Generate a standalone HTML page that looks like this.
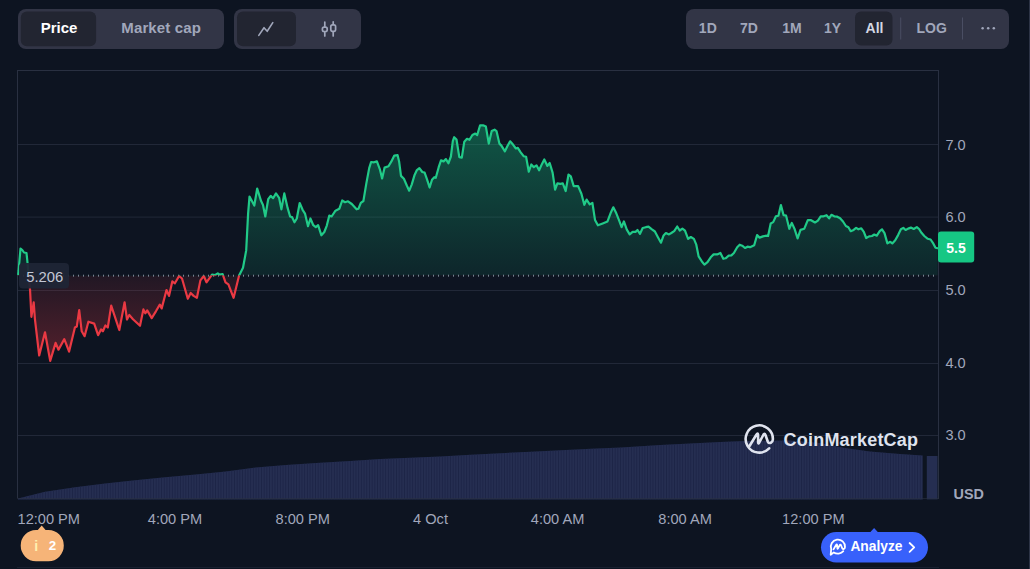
<!DOCTYPE html>
<html lang="en"><head><meta charset="utf-8"><title>Price chart</title>
<style>
html,body{margin:0;padding:0;background:#0d1421;}
body{width:1030px;height:569px;overflow:hidden;position:relative;}
svg{display:block;position:absolute;left:0;top:0;font-family:"Liberation Sans",sans-serif;}
.ax{font-size:14.6px;fill:#a1a7bb;}
.tb{font-size:14px;font-weight:700;fill:#a1a7bb;text-anchor:middle;}
.tb15{font-size:15px;font-weight:700;fill:#a1a7bb;text-anchor:middle;}
</style></head>
<body>
<svg width="1030" height="569" viewBox="0 0 1030 569">
<defs>
<linearGradient id="gg" gradientUnits="userSpaceOnUse" x1="0" y1="125" x2="0" y2="275.5">
<stop offset="0" stop-color="#16c784" stop-opacity="0.37"/><stop offset="1" stop-color="#16c784" stop-opacity="0.10"/></linearGradient>
<linearGradient id="rg" gradientUnits="userSpaceOnUse" x1="0" y1="275.5" x2="0" y2="361">
<stop offset="0" stop-color="#ea3943" stop-opacity="0.09"/><stop offset="1" stop-color="#ea3943" stop-opacity="0.32"/></linearGradient>
<clipPath id="up"><rect x="0" y="0" width="1030" height="275.5"/></clipPath>
<clipPath id="dn"><rect x="0" y="275.5" width="1030" height="300"/></clipPath>
<pattern id="vp" x="18" y="0" width="2.7" height="10" patternUnits="userSpaceOnUse"><rect x="0" y="0" width="0.8" height="10" fill="#1a2245"/></pattern>
</defs>
<rect width="1030" height="569" fill="#0d1421"/>
<rect x="1029" y="0" width="1" height="569" fill="#2d3446"/>

<!-- toolbar left: Price / Market cap -->
<rect x="18" y="9" width="206" height="40" rx="8" fill="#323546"/>
<rect x="20.8" y="11.4" width="75.3" height="34.8" rx="6" fill="#222531"/>
<text x="59.1" y="33" class="tb15" style="fill:#ffffff">Price</text>
<text x="161.2" y="33" class="tb15" letter-spacing="0.15">Market cap</text>

<!-- toolbar: chart type -->
<rect x="234" y="9" width="127" height="40" rx="8" fill="#323546"/>
<rect x="237" y="11.4" width="59" height="34.8" rx="6" fill="#222531"/>
<polyline points="258.8,35.4 264,27.7 267.2,31.3 272.8,22.6" fill="none" stroke="#a1a7bb" stroke-width="1.6" stroke-linecap="round" stroke-linejoin="round"/>
<g fill="none" stroke="#a1a7bb" stroke-width="1.7" stroke-linecap="round">
<line x1="324.8" y1="22" x2="324.8" y2="26.2"/><line x1="324.8" y1="32.4" x2="324.8" y2="36"/>
<rect x="322.4" y="27.2" width="4.8" height="4.3" rx="1.7"/>
<line x1="333.2" y1="21.8" x2="333.2" y2="24"/><line x1="333.2" y1="32.4" x2="333.2" y2="36"/>
<rect x="330.8" y="24.9" width="4.8" height="6.4" rx="1.7"/>
</g>

<!-- toolbar right: ranges -->
<rect x="686" y="9" width="323" height="40" rx="8" fill="#323546"/>
<rect x="855" y="11.5" width="37.5" height="34" rx="6" fill="#222531"/>
<text x="707.8" y="33" class="tb">1D</text>
<text x="749" y="33" class="tb">7D</text>
<text x="792" y="33" class="tb">1M</text>
<text x="832.5" y="33" class="tb">1Y</text>
<text x="874.5" y="33" class="tb" style="fill:#d3d7e3">All</text>
<rect x="900.2" y="17.5" width="1" height="22" fill="#4a4e63"/>
<text x="931.7" y="33" class="tb">LOG</text>
<rect x="962" y="17.5" width="1" height="22" fill="#4a4e63"/>
<circle cx="982.6" cy="28.3" r="1.25" fill="#a1a7bb"/><circle cx="988.2" cy="28.3" r="1.25" fill="#a1a7bb"/><circle cx="993.8" cy="28.3" r="1.25" fill="#a1a7bb"/>

<!-- chart frame and grid -->
<rect x="18" y="144" width="920" height="1" fill="#212838"/><rect x="18" y="216.6" width="920" height="1" fill="#212838"/><rect x="18" y="290" width="920" height="1" fill="#212838"/><rect x="18" y="363" width="920" height="1" fill="#212838"/><rect x="18" y="435" width="920" height="1" fill="#212838"/>
<rect x="17" y="70" width="922" height="1" fill="#293041"/>
<rect x="17" y="70" width="1" height="428" fill="#293041"/>
<rect x="938" y="70" width="1" height="429" fill="#293041"/>
<rect x="17" y="567" width="922" height="1" fill="#182030"/>

<!-- volume -->
<path d="M18 499.4 L18.0 498.6 L45.0 491.7 L75.0 487.2 L105.0 483.6 L135.0 480.3 L165.0 477.2 L195.6 474.5 L225.6 471.5 L255.7 467.6 L285.8 464.9 L316.0 463.1 L350.0 461.0 L380.0 458.9 L410.0 457.7 L440.0 456.5 L470.5 454.7 L500.6 453.2 L530.7 451.7 L560.7 450.2 L590.8 448.7 L621.0 447.5 L660.0 445.0 L690.0 443.5 L720.0 442.0 L745.0 441.0 L790.0 440.5 L820.0 443.0 L845.0 448.0 L870.0 451.5 L900.0 454.0 L922.6 455.6 L922.6 499.4 Z" fill="#252e51"/>
<path d="M18 499.4 L18.0 498.6 L45.0 491.7 L75.0 487.2 L105.0 483.6 L135.0 480.3 L165.0 477.2 L195.6 474.5 L225.6 471.5 L255.7 467.6 L285.8 464.9 L316.0 463.1 L350.0 461.0 L380.0 458.9 L410.0 457.7 L440.0 456.5 L470.5 454.7 L500.6 453.2 L530.7 451.7 L560.7 450.2 L590.8 448.7 L621.0 447.5 L660.0 445.0 L690.0 443.5 L720.0 442.0 L745.0 441.0 L790.0 440.5 L820.0 443.0 L845.0 448.0 L870.0 451.5 L900.0 454.0 L922.6 455.6 L922.6 499.4 Z" fill="url(#vp)"/>
<rect x="926.8" y="456" width="10.7" height="43.4" fill="#252e51"/>
<rect x="17" y="498" width="922" height="1" fill="#293041" opacity="0.6"/>

<!-- price area + line -->
<g clip-path="url(#up)"><path d="M18.2 274.2 L18.6 271.0 L20.5 248.5 L22.3 250.0 L24.0 252.5 L26.5 253.0 L27.5 262.5 L30.1 290.7 L31.4 316.8 L33.7 302.3 L34.9 318.8 L39.2 355.5 L45.0 332.3 L50.2 360.9 L55.6 342.9 L58.5 349.7 L64.3 339.1 L69.1 351.6 L74.9 327.5 L76.8 326.5 L79.2 310.1 L81.7 331.3 L84.6 336.2 L88.4 321.7 L94.2 323.6 L98.1 335.2 L101.0 329.4 L102.9 331.3 L105.4 325.5 L107.8 327.5 L111.2 305.6 L119.3 330.0 L124.6 302.3 L127.0 319.5 L129.3 315.0 L133.0 319.3 L140.0 325.8 L143.4 309.4 L145.3 313.3 L147.2 310.4 L151.7 318.1 L155.9 311.3 L159.8 304.6 L161.7 308.4 L166.5 290.0 L169.0 295.9 L172.3 281.4 L174.9 283.3 L179.1 276.0 L182.0 278.5 L187.8 298.8 L190.7 293.0 L193.6 295.9 L196.9 297.8 L200.4 280.4 L203.8 276.0 L206.5 282.3 L212.0 274.6 L214.9 275.2 L217.8 273.3 L219.7 274.6 L222.6 274.0 L225.5 282.3 L228.4 284.3 L233.6 297.8 L239.1 275.5 L243.0 267.8 L246.2 250.4 L248.1 213.6 L249.5 196.6 L254.3 205.5 L257.2 188.5 L261.1 201.1 L263.0 205.0 L265.3 216.5 L268.2 199.2 L270.7 195.9 L273.1 198.2 L276.0 193.4 L279.1 197.8 L281.4 209.4 L284.3 193.4 L287.6 207.9 L290.1 216.5 L292.0 217.1 L294.5 222.3 L296.8 218.5 L299.7 203.0 L302.6 209.8 L305.0 213.6 L308.0 226.2 L310.4 218.5 L313.3 225.2 L315.8 227.2 L318.1 225.2 L321.4 235.3 L324.3 232.0 L326.8 225.6 L329.3 215.6 L331.6 216.5 L335.5 210.7 L339.3 208.8 L342.2 200.5 L345.0 202.2 L348.0 201.3 L351.8 204.0 L356.6 209.3 L358.5 208.7 L360.8 202.9 L363.4 201.0 L366.3 183.6 L369.2 168.1 L371.1 162.0 L374.0 162.3 L376.9 161.4 L379.8 169.1 L382.1 178.4 L384.6 167.6 L388.5 166.2 L391.4 161.4 L394.3 155.6 L397.6 155.2 L399.1 161.4 L401.0 175.9 L403.9 178.8 L406.8 185.5 L409.2 190.7 L411.7 184.6 L414.6 174.9 L416.9 170.1 L419.4 168.1 L422.3 172.0 L424.6 172.6 L427.1 179.7 L429.6 187.5 L432.0 179.7 L434.3 177.2 L435.8 177.8 L438.7 167.2 L441.0 160.4 L443.6 161.4 L445.9 159.1 L448.4 163.3 L450.9 156.5 L452.8 141.1 L454.2 137.2 L456.5 139.5 L459.3 157.2 L461.8 157.6 L464.3 141.7 L467.0 138.8 L469.5 139.8 L472.4 135.0 L475.3 133.6 L477.2 135.0 L480.1 125.3 L483.0 125.3 L485.9 126.6 L488.8 143.6 L491.7 131.1 L494.6 129.7 L496.5 131.1 L499.4 143.6 L501.4 145.6 L504.9 151.4 L507.2 146.5 L510.1 141.3 L513.0 144.6 L515.9 148.5 L517.8 147.9 L520.7 152.3 L523.6 156.2 L526.1 156.8 L528.8 171.7 L531.3 164.5 L533.8 167.2 L536.5 165.3 L539.1 170.3 L542.0 163.9 L544.3 159.5 L547.4 165.9 L549.7 163.0 L552.6 172.6 L555.1 189.6 L557.4 183.3 L560.3 183.8 L562.8 183.3 L565.7 191.0 L568.5 174.5 L570.8 176.4 L573.7 186.1 L578.1 186.1 L581.4 193.8 L584.3 204.8 L586.6 199.6 L589.7 204.4 L592.4 202.9 L595.0 219.9 L597.9 225.3 L602.7 223.4 L607.5 221.4 L611.0 212.2 L613.3 207.3 L616.2 213.1 L619.1 220.3 L621.6 227.2 L623.9 221.4 L626.8 229.6 L629.7 234.4 L632.6 231.9 L635.5 231.9 L637.5 230.0 L640.0 233.8 L642.7 228.0 L645.8 227.2 L648.5 226.7 L651.6 229.2 L654.9 231.5 L657.8 236.9 L661.0 242.7 L663.6 235.4 L665.9 233.0 L669.0 234.4 L671.3 233.0 L674.2 231.1 L677.2 226.5 L679.7 230.5 L682.4 228.6 L685.0 230.6 L688.1 238.9 L690.8 237.0 L693.9 238.9 L696.3 244.7 L698.6 256.3 L701.7 261.2 L704.4 264.6 L707.5 262.1 L710.7 257.3 L713.6 254.4 L717.1 254.4 L720.4 253.0 L723.3 258.8 L725.6 258.3 L728.7 255.7 L731.4 255.4 L733.9 253.0 L737.2 247.2 L739.7 244.7 L742.2 245.7 L745.0 248.0 L747.5 246.7 L750.0 247.2 L754.2 245.3 L757.1 235.1 L759.6 237.6 L762.9 236.4 L765.8 235.7 L768.1 236.0 L770.7 223.5 L773.2 222.1 L775.9 216.3 L778.4 215.7 L780.9 205.1 L783.6 215.2 L786.1 215.7 L789.3 228.8 L791.8 222.9 L794.7 229.3 L797.6 238.4 L800.5 229.9 L804.3 228.7 L807.8 220.2 L811.1 220.2 L815.0 222.5 L817.9 220.6 L820.7 216.3 L823.6 216.3 L826.5 215.2 L829.1 218.3 L831.4 214.8 L834.3 216.3 L837.2 216.7 L840.1 218.3 L843.0 221.5 L845.9 226.0 L848.4 227.3 L850.7 231.2 L853.6 229.9 L856.1 227.9 L858.4 229.3 L861.3 228.3 L863.8 231.8 L866.2 238.0 L869.1 236.4 L872.0 236.0 L874.3 234.5 L876.8 235.7 L879.7 231.2 L882.0 229.3 L884.5 233.1 L887.4 243.4 L890.3 241.8 L892.3 243.4 L895.2 240.3 L898.1 235.1 L900.9 229.3 L903.3 227.9 L905.6 230.0 L908.1 228.6 L910.9 227.6 L913.7 229.0 L916.8 227.1 L919.1 229.0 L921.5 232.8 L924.3 236.0 L927.8 238.8 L930.6 239.5 L933.4 243.7 L935.5 247.7 L937.6 248.2 L937.6 275.5 L18.2 275.5 Z" fill="url(#gg)"/></g>
<g clip-path="url(#dn)"><path d="M18.2 274.2 L18.6 271.0 L20.5 248.5 L22.3 250.0 L24.0 252.5 L26.5 253.0 L27.5 262.5 L30.1 290.7 L31.4 316.8 L33.7 302.3 L34.9 318.8 L39.2 355.5 L45.0 332.3 L50.2 360.9 L55.6 342.9 L58.5 349.7 L64.3 339.1 L69.1 351.6 L74.9 327.5 L76.8 326.5 L79.2 310.1 L81.7 331.3 L84.6 336.2 L88.4 321.7 L94.2 323.6 L98.1 335.2 L101.0 329.4 L102.9 331.3 L105.4 325.5 L107.8 327.5 L111.2 305.6 L119.3 330.0 L124.6 302.3 L127.0 319.5 L129.3 315.0 L133.0 319.3 L140.0 325.8 L143.4 309.4 L145.3 313.3 L147.2 310.4 L151.7 318.1 L155.9 311.3 L159.8 304.6 L161.7 308.4 L166.5 290.0 L169.0 295.9 L172.3 281.4 L174.9 283.3 L179.1 276.0 L182.0 278.5 L187.8 298.8 L190.7 293.0 L193.6 295.9 L196.9 297.8 L200.4 280.4 L203.8 276.0 L206.5 282.3 L212.0 274.6 L214.9 275.2 L217.8 273.3 L219.7 274.6 L222.6 274.0 L225.5 282.3 L228.4 284.3 L233.6 297.8 L239.1 275.5 L243.0 267.8 L246.2 250.4 L248.1 213.6 L249.5 196.6 L254.3 205.5 L257.2 188.5 L261.1 201.1 L263.0 205.0 L265.3 216.5 L268.2 199.2 L270.7 195.9 L273.1 198.2 L276.0 193.4 L279.1 197.8 L281.4 209.4 L284.3 193.4 L287.6 207.9 L290.1 216.5 L292.0 217.1 L294.5 222.3 L296.8 218.5 L299.7 203.0 L302.6 209.8 L305.0 213.6 L308.0 226.2 L310.4 218.5 L313.3 225.2 L315.8 227.2 L318.1 225.2 L321.4 235.3 L324.3 232.0 L326.8 225.6 L329.3 215.6 L331.6 216.5 L335.5 210.7 L339.3 208.8 L342.2 200.5 L345.0 202.2 L348.0 201.3 L351.8 204.0 L356.6 209.3 L358.5 208.7 L360.8 202.9 L363.4 201.0 L366.3 183.6 L369.2 168.1 L371.1 162.0 L374.0 162.3 L376.9 161.4 L379.8 169.1 L382.1 178.4 L384.6 167.6 L388.5 166.2 L391.4 161.4 L394.3 155.6 L397.6 155.2 L399.1 161.4 L401.0 175.9 L403.9 178.8 L406.8 185.5 L409.2 190.7 L411.7 184.6 L414.6 174.9 L416.9 170.1 L419.4 168.1 L422.3 172.0 L424.6 172.6 L427.1 179.7 L429.6 187.5 L432.0 179.7 L434.3 177.2 L435.8 177.8 L438.7 167.2 L441.0 160.4 L443.6 161.4 L445.9 159.1 L448.4 163.3 L450.9 156.5 L452.8 141.1 L454.2 137.2 L456.5 139.5 L459.3 157.2 L461.8 157.6 L464.3 141.7 L467.0 138.8 L469.5 139.8 L472.4 135.0 L475.3 133.6 L477.2 135.0 L480.1 125.3 L483.0 125.3 L485.9 126.6 L488.8 143.6 L491.7 131.1 L494.6 129.7 L496.5 131.1 L499.4 143.6 L501.4 145.6 L504.9 151.4 L507.2 146.5 L510.1 141.3 L513.0 144.6 L515.9 148.5 L517.8 147.9 L520.7 152.3 L523.6 156.2 L526.1 156.8 L528.8 171.7 L531.3 164.5 L533.8 167.2 L536.5 165.3 L539.1 170.3 L542.0 163.9 L544.3 159.5 L547.4 165.9 L549.7 163.0 L552.6 172.6 L555.1 189.6 L557.4 183.3 L560.3 183.8 L562.8 183.3 L565.7 191.0 L568.5 174.5 L570.8 176.4 L573.7 186.1 L578.1 186.1 L581.4 193.8 L584.3 204.8 L586.6 199.6 L589.7 204.4 L592.4 202.9 L595.0 219.9 L597.9 225.3 L602.7 223.4 L607.5 221.4 L611.0 212.2 L613.3 207.3 L616.2 213.1 L619.1 220.3 L621.6 227.2 L623.9 221.4 L626.8 229.6 L629.7 234.4 L632.6 231.9 L635.5 231.9 L637.5 230.0 L640.0 233.8 L642.7 228.0 L645.8 227.2 L648.5 226.7 L651.6 229.2 L654.9 231.5 L657.8 236.9 L661.0 242.7 L663.6 235.4 L665.9 233.0 L669.0 234.4 L671.3 233.0 L674.2 231.1 L677.2 226.5 L679.7 230.5 L682.4 228.6 L685.0 230.6 L688.1 238.9 L690.8 237.0 L693.9 238.9 L696.3 244.7 L698.6 256.3 L701.7 261.2 L704.4 264.6 L707.5 262.1 L710.7 257.3 L713.6 254.4 L717.1 254.4 L720.4 253.0 L723.3 258.8 L725.6 258.3 L728.7 255.7 L731.4 255.4 L733.9 253.0 L737.2 247.2 L739.7 244.7 L742.2 245.7 L745.0 248.0 L747.5 246.7 L750.0 247.2 L754.2 245.3 L757.1 235.1 L759.6 237.6 L762.9 236.4 L765.8 235.7 L768.1 236.0 L770.7 223.5 L773.2 222.1 L775.9 216.3 L778.4 215.7 L780.9 205.1 L783.6 215.2 L786.1 215.7 L789.3 228.8 L791.8 222.9 L794.7 229.3 L797.6 238.4 L800.5 229.9 L804.3 228.7 L807.8 220.2 L811.1 220.2 L815.0 222.5 L817.9 220.6 L820.7 216.3 L823.6 216.3 L826.5 215.2 L829.1 218.3 L831.4 214.8 L834.3 216.3 L837.2 216.7 L840.1 218.3 L843.0 221.5 L845.9 226.0 L848.4 227.3 L850.7 231.2 L853.6 229.9 L856.1 227.9 L858.4 229.3 L861.3 228.3 L863.8 231.8 L866.2 238.0 L869.1 236.4 L872.0 236.0 L874.3 234.5 L876.8 235.7 L879.7 231.2 L882.0 229.3 L884.5 233.1 L887.4 243.4 L890.3 241.8 L892.3 243.4 L895.2 240.3 L898.1 235.1 L900.9 229.3 L903.3 227.9 L905.6 230.0 L908.1 228.6 L910.9 227.6 L913.7 229.0 L916.8 227.1 L919.1 229.0 L921.5 232.8 L924.3 236.0 L927.8 238.8 L930.6 239.5 L933.4 243.7 L935.5 247.7 L937.6 248.2 L937.6 275.5 L18.2 275.5 Z" fill="url(#rg)"/></g>
<g fill="#76818f"><rect x="23.0" y="274.7" width="1" height="2"/><rect x="28.0" y="274.7" width="1" height="2"/><rect x="33.0" y="274.7" width="1" height="2"/><rect x="38.0" y="274.7" width="1" height="2"/><rect x="43.0" y="274.7" width="1" height="2"/><rect x="48.0" y="274.7" width="1" height="2"/><rect x="53.0" y="274.7" width="1" height="2"/><rect x="58.0" y="274.7" width="1" height="2"/><rect x="63.0" y="274.7" width="1" height="2"/><rect x="68.0" y="274.7" width="1" height="2"/><rect x="73.0" y="274.7" width="1" height="2"/><rect x="78.0" y="274.7" width="1" height="2"/><rect x="83.0" y="274.7" width="1" height="2"/><rect x="88.0" y="274.7" width="1" height="2"/><rect x="93.0" y="274.7" width="1" height="2"/><rect x="98.0" y="274.7" width="1" height="2"/><rect x="103.0" y="274.7" width="1" height="2"/><rect x="108.0" y="274.7" width="1" height="2"/><rect x="113.0" y="274.7" width="1" height="2"/><rect x="118.0" y="274.7" width="1" height="2"/><rect x="123.0" y="274.7" width="1" height="2"/><rect x="128.0" y="274.7" width="1" height="2"/><rect x="133.0" y="274.7" width="1" height="2"/><rect x="138.0" y="274.7" width="1" height="2"/><rect x="143.0" y="274.7" width="1" height="2"/><rect x="148.0" y="274.7" width="1" height="2"/><rect x="153.0" y="274.7" width="1" height="2"/><rect x="158.0" y="274.7" width="1" height="2"/><rect x="163.0" y="274.7" width="1" height="2"/><rect x="168.0" y="274.7" width="1" height="2"/><rect x="173.0" y="274.7" width="1" height="2"/><rect x="178.0" y="274.7" width="1" height="2"/><rect x="183.0" y="274.7" width="1" height="2"/><rect x="188.0" y="274.7" width="1" height="2"/><rect x="193.0" y="274.7" width="1" height="2"/><rect x="198.0" y="274.7" width="1" height="2"/><rect x="203.0" y="274.7" width="1" height="2"/><rect x="208.0" y="274.7" width="1" height="2"/><rect x="213.0" y="274.7" width="1" height="2"/><rect x="218.0" y="274.7" width="1" height="2"/><rect x="223.0" y="274.7" width="1" height="2"/><rect x="228.0" y="274.7" width="1" height="2"/><rect x="233.0" y="274.7" width="1" height="2"/><rect x="238.0" y="274.7" width="1" height="2"/><rect x="243.0" y="274.7" width="1" height="2"/><rect x="248.0" y="274.7" width="1" height="2"/><rect x="253.0" y="274.7" width="1" height="2"/><rect x="258.0" y="274.7" width="1" height="2"/><rect x="263.0" y="274.7" width="1" height="2"/><rect x="268.0" y="274.7" width="1" height="2"/><rect x="273.0" y="274.7" width="1" height="2"/><rect x="278.0" y="274.7" width="1" height="2"/><rect x="283.0" y="274.7" width="1" height="2"/><rect x="288.0" y="274.7" width="1" height="2"/><rect x="293.0" y="274.7" width="1" height="2"/><rect x="298.0" y="274.7" width="1" height="2"/><rect x="303.0" y="274.7" width="1" height="2"/><rect x="308.0" y="274.7" width="1" height="2"/><rect x="313.0" y="274.7" width="1" height="2"/><rect x="318.0" y="274.7" width="1" height="2"/><rect x="323.0" y="274.7" width="1" height="2"/><rect x="328.0" y="274.7" width="1" height="2"/><rect x="333.0" y="274.7" width="1" height="2"/><rect x="338.0" y="274.7" width="1" height="2"/><rect x="343.0" y="274.7" width="1" height="2"/><rect x="348.0" y="274.7" width="1" height="2"/><rect x="353.0" y="274.7" width="1" height="2"/><rect x="358.0" y="274.7" width="1" height="2"/><rect x="363.0" y="274.7" width="1" height="2"/><rect x="368.0" y="274.7" width="1" height="2"/><rect x="373.0" y="274.7" width="1" height="2"/><rect x="378.0" y="274.7" width="1" height="2"/><rect x="383.0" y="274.7" width="1" height="2"/><rect x="388.0" y="274.7" width="1" height="2"/><rect x="393.0" y="274.7" width="1" height="2"/><rect x="398.0" y="274.7" width="1" height="2"/><rect x="403.0" y="274.7" width="1" height="2"/><rect x="408.0" y="274.7" width="1" height="2"/><rect x="413.0" y="274.7" width="1" height="2"/><rect x="418.0" y="274.7" width="1" height="2"/><rect x="423.0" y="274.7" width="1" height="2"/><rect x="428.0" y="274.7" width="1" height="2"/><rect x="433.0" y="274.7" width="1" height="2"/><rect x="438.0" y="274.7" width="1" height="2"/><rect x="443.0" y="274.7" width="1" height="2"/><rect x="448.0" y="274.7" width="1" height="2"/><rect x="453.0" y="274.7" width="1" height="2"/><rect x="458.0" y="274.7" width="1" height="2"/><rect x="463.0" y="274.7" width="1" height="2"/><rect x="468.0" y="274.7" width="1" height="2"/><rect x="473.0" y="274.7" width="1" height="2"/><rect x="478.0" y="274.7" width="1" height="2"/><rect x="483.0" y="274.7" width="1" height="2"/><rect x="488.0" y="274.7" width="1" height="2"/><rect x="493.0" y="274.7" width="1" height="2"/><rect x="498.0" y="274.7" width="1" height="2"/><rect x="503.0" y="274.7" width="1" height="2"/><rect x="508.0" y="274.7" width="1" height="2"/><rect x="513.0" y="274.7" width="1" height="2"/><rect x="518.0" y="274.7" width="1" height="2"/><rect x="523.0" y="274.7" width="1" height="2"/><rect x="528.0" y="274.7" width="1" height="2"/><rect x="533.0" y="274.7" width="1" height="2"/><rect x="538.0" y="274.7" width="1" height="2"/><rect x="543.0" y="274.7" width="1" height="2"/><rect x="548.0" y="274.7" width="1" height="2"/><rect x="553.0" y="274.7" width="1" height="2"/><rect x="558.0" y="274.7" width="1" height="2"/><rect x="563.0" y="274.7" width="1" height="2"/><rect x="568.0" y="274.7" width="1" height="2"/><rect x="573.0" y="274.7" width="1" height="2"/><rect x="578.0" y="274.7" width="1" height="2"/><rect x="583.0" y="274.7" width="1" height="2"/><rect x="588.0" y="274.7" width="1" height="2"/><rect x="593.0" y="274.7" width="1" height="2"/><rect x="598.0" y="274.7" width="1" height="2"/><rect x="603.0" y="274.7" width="1" height="2"/><rect x="608.0" y="274.7" width="1" height="2"/><rect x="613.0" y="274.7" width="1" height="2"/><rect x="618.0" y="274.7" width="1" height="2"/><rect x="623.0" y="274.7" width="1" height="2"/><rect x="628.0" y="274.7" width="1" height="2"/><rect x="633.0" y="274.7" width="1" height="2"/><rect x="638.0" y="274.7" width="1" height="2"/><rect x="643.0" y="274.7" width="1" height="2"/><rect x="648.0" y="274.7" width="1" height="2"/><rect x="653.0" y="274.7" width="1" height="2"/><rect x="658.0" y="274.7" width="1" height="2"/><rect x="663.0" y="274.7" width="1" height="2"/><rect x="668.0" y="274.7" width="1" height="2"/><rect x="673.0" y="274.7" width="1" height="2"/><rect x="678.0" y="274.7" width="1" height="2"/><rect x="683.0" y="274.7" width="1" height="2"/><rect x="688.0" y="274.7" width="1" height="2"/><rect x="693.0" y="274.7" width="1" height="2"/><rect x="698.0" y="274.7" width="1" height="2"/><rect x="703.0" y="274.7" width="1" height="2"/><rect x="708.0" y="274.7" width="1" height="2"/><rect x="713.0" y="274.7" width="1" height="2"/><rect x="718.0" y="274.7" width="1" height="2"/><rect x="723.0" y="274.7" width="1" height="2"/><rect x="728.0" y="274.7" width="1" height="2"/><rect x="733.0" y="274.7" width="1" height="2"/><rect x="738.0" y="274.7" width="1" height="2"/><rect x="743.0" y="274.7" width="1" height="2"/><rect x="748.0" y="274.7" width="1" height="2"/><rect x="753.0" y="274.7" width="1" height="2"/><rect x="758.0" y="274.7" width="1" height="2"/><rect x="763.0" y="274.7" width="1" height="2"/><rect x="768.0" y="274.7" width="1" height="2"/><rect x="773.0" y="274.7" width="1" height="2"/><rect x="778.0" y="274.7" width="1" height="2"/><rect x="783.0" y="274.7" width="1" height="2"/><rect x="788.0" y="274.7" width="1" height="2"/><rect x="793.0" y="274.7" width="1" height="2"/><rect x="798.0" y="274.7" width="1" height="2"/><rect x="803.0" y="274.7" width="1" height="2"/><rect x="808.0" y="274.7" width="1" height="2"/><rect x="813.0" y="274.7" width="1" height="2"/><rect x="818.0" y="274.7" width="1" height="2"/><rect x="823.0" y="274.7" width="1" height="2"/><rect x="828.0" y="274.7" width="1" height="2"/><rect x="833.0" y="274.7" width="1" height="2"/><rect x="838.0" y="274.7" width="1" height="2"/><rect x="843.0" y="274.7" width="1" height="2"/><rect x="848.0" y="274.7" width="1" height="2"/><rect x="853.0" y="274.7" width="1" height="2"/><rect x="858.0" y="274.7" width="1" height="2"/><rect x="863.0" y="274.7" width="1" height="2"/><rect x="868.0" y="274.7" width="1" height="2"/><rect x="873.0" y="274.7" width="1" height="2"/><rect x="878.0" y="274.7" width="1" height="2"/><rect x="883.0" y="274.7" width="1" height="2"/><rect x="888.0" y="274.7" width="1" height="2"/><rect x="893.0" y="274.7" width="1" height="2"/><rect x="898.0" y="274.7" width="1" height="2"/><rect x="903.0" y="274.7" width="1" height="2"/><rect x="908.0" y="274.7" width="1" height="2"/><rect x="913.0" y="274.7" width="1" height="2"/><rect x="918.0" y="274.7" width="1" height="2"/><rect x="923.0" y="274.7" width="1" height="2"/><rect x="928.0" y="274.7" width="1" height="2"/><rect x="933.0" y="274.7" width="1" height="2"/></g>
<g clip-path="url(#up)"><path d="M18.2 274.2 L18.6 271.0 L20.5 248.5 L22.3 250.0 L24.0 252.5 L26.5 253.0 L27.5 262.5 L30.1 290.7 L31.4 316.8 L33.7 302.3 L34.9 318.8 L39.2 355.5 L45.0 332.3 L50.2 360.9 L55.6 342.9 L58.5 349.7 L64.3 339.1 L69.1 351.6 L74.9 327.5 L76.8 326.5 L79.2 310.1 L81.7 331.3 L84.6 336.2 L88.4 321.7 L94.2 323.6 L98.1 335.2 L101.0 329.4 L102.9 331.3 L105.4 325.5 L107.8 327.5 L111.2 305.6 L119.3 330.0 L124.6 302.3 L127.0 319.5 L129.3 315.0 L133.0 319.3 L140.0 325.8 L143.4 309.4 L145.3 313.3 L147.2 310.4 L151.7 318.1 L155.9 311.3 L159.8 304.6 L161.7 308.4 L166.5 290.0 L169.0 295.9 L172.3 281.4 L174.9 283.3 L179.1 276.0 L182.0 278.5 L187.8 298.8 L190.7 293.0 L193.6 295.9 L196.9 297.8 L200.4 280.4 L203.8 276.0 L206.5 282.3 L212.0 274.6 L214.9 275.2 L217.8 273.3 L219.7 274.6 L222.6 274.0 L225.5 282.3 L228.4 284.3 L233.6 297.8 L239.1 275.5 L243.0 267.8 L246.2 250.4 L248.1 213.6 L249.5 196.6 L254.3 205.5 L257.2 188.5 L261.1 201.1 L263.0 205.0 L265.3 216.5 L268.2 199.2 L270.7 195.9 L273.1 198.2 L276.0 193.4 L279.1 197.8 L281.4 209.4 L284.3 193.4 L287.6 207.9 L290.1 216.5 L292.0 217.1 L294.5 222.3 L296.8 218.5 L299.7 203.0 L302.6 209.8 L305.0 213.6 L308.0 226.2 L310.4 218.5 L313.3 225.2 L315.8 227.2 L318.1 225.2 L321.4 235.3 L324.3 232.0 L326.8 225.6 L329.3 215.6 L331.6 216.5 L335.5 210.7 L339.3 208.8 L342.2 200.5 L345.0 202.2 L348.0 201.3 L351.8 204.0 L356.6 209.3 L358.5 208.7 L360.8 202.9 L363.4 201.0 L366.3 183.6 L369.2 168.1 L371.1 162.0 L374.0 162.3 L376.9 161.4 L379.8 169.1 L382.1 178.4 L384.6 167.6 L388.5 166.2 L391.4 161.4 L394.3 155.6 L397.6 155.2 L399.1 161.4 L401.0 175.9 L403.9 178.8 L406.8 185.5 L409.2 190.7 L411.7 184.6 L414.6 174.9 L416.9 170.1 L419.4 168.1 L422.3 172.0 L424.6 172.6 L427.1 179.7 L429.6 187.5 L432.0 179.7 L434.3 177.2 L435.8 177.8 L438.7 167.2 L441.0 160.4 L443.6 161.4 L445.9 159.1 L448.4 163.3 L450.9 156.5 L452.8 141.1 L454.2 137.2 L456.5 139.5 L459.3 157.2 L461.8 157.6 L464.3 141.7 L467.0 138.8 L469.5 139.8 L472.4 135.0 L475.3 133.6 L477.2 135.0 L480.1 125.3 L483.0 125.3 L485.9 126.6 L488.8 143.6 L491.7 131.1 L494.6 129.7 L496.5 131.1 L499.4 143.6 L501.4 145.6 L504.9 151.4 L507.2 146.5 L510.1 141.3 L513.0 144.6 L515.9 148.5 L517.8 147.9 L520.7 152.3 L523.6 156.2 L526.1 156.8 L528.8 171.7 L531.3 164.5 L533.8 167.2 L536.5 165.3 L539.1 170.3 L542.0 163.9 L544.3 159.5 L547.4 165.9 L549.7 163.0 L552.6 172.6 L555.1 189.6 L557.4 183.3 L560.3 183.8 L562.8 183.3 L565.7 191.0 L568.5 174.5 L570.8 176.4 L573.7 186.1 L578.1 186.1 L581.4 193.8 L584.3 204.8 L586.6 199.6 L589.7 204.4 L592.4 202.9 L595.0 219.9 L597.9 225.3 L602.7 223.4 L607.5 221.4 L611.0 212.2 L613.3 207.3 L616.2 213.1 L619.1 220.3 L621.6 227.2 L623.9 221.4 L626.8 229.6 L629.7 234.4 L632.6 231.9 L635.5 231.9 L637.5 230.0 L640.0 233.8 L642.7 228.0 L645.8 227.2 L648.5 226.7 L651.6 229.2 L654.9 231.5 L657.8 236.9 L661.0 242.7 L663.6 235.4 L665.9 233.0 L669.0 234.4 L671.3 233.0 L674.2 231.1 L677.2 226.5 L679.7 230.5 L682.4 228.6 L685.0 230.6 L688.1 238.9 L690.8 237.0 L693.9 238.9 L696.3 244.7 L698.6 256.3 L701.7 261.2 L704.4 264.6 L707.5 262.1 L710.7 257.3 L713.6 254.4 L717.1 254.4 L720.4 253.0 L723.3 258.8 L725.6 258.3 L728.7 255.7 L731.4 255.4 L733.9 253.0 L737.2 247.2 L739.7 244.7 L742.2 245.7 L745.0 248.0 L747.5 246.7 L750.0 247.2 L754.2 245.3 L757.1 235.1 L759.6 237.6 L762.9 236.4 L765.8 235.7 L768.1 236.0 L770.7 223.5 L773.2 222.1 L775.9 216.3 L778.4 215.7 L780.9 205.1 L783.6 215.2 L786.1 215.7 L789.3 228.8 L791.8 222.9 L794.7 229.3 L797.6 238.4 L800.5 229.9 L804.3 228.7 L807.8 220.2 L811.1 220.2 L815.0 222.5 L817.9 220.6 L820.7 216.3 L823.6 216.3 L826.5 215.2 L829.1 218.3 L831.4 214.8 L834.3 216.3 L837.2 216.7 L840.1 218.3 L843.0 221.5 L845.9 226.0 L848.4 227.3 L850.7 231.2 L853.6 229.9 L856.1 227.9 L858.4 229.3 L861.3 228.3 L863.8 231.8 L866.2 238.0 L869.1 236.4 L872.0 236.0 L874.3 234.5 L876.8 235.7 L879.7 231.2 L882.0 229.3 L884.5 233.1 L887.4 243.4 L890.3 241.8 L892.3 243.4 L895.2 240.3 L898.1 235.1 L900.9 229.3 L903.3 227.9 L905.6 230.0 L908.1 228.6 L910.9 227.6 L913.7 229.0 L916.8 227.1 L919.1 229.0 L921.5 232.8 L924.3 236.0 L927.8 238.8 L930.6 239.5 L933.4 243.7 L935.5 247.7 L937.6 248.2" fill="none" stroke="#21ca88" stroke-width="2.2" stroke-linejoin="round" stroke-linecap="round"/></g>
<g clip-path="url(#dn)"><path d="M18.2 274.2 L18.6 271.0 L20.5 248.5 L22.3 250.0 L24.0 252.5 L26.5 253.0 L27.5 262.5 L30.1 290.7 L31.4 316.8 L33.7 302.3 L34.9 318.8 L39.2 355.5 L45.0 332.3 L50.2 360.9 L55.6 342.9 L58.5 349.7 L64.3 339.1 L69.1 351.6 L74.9 327.5 L76.8 326.5 L79.2 310.1 L81.7 331.3 L84.6 336.2 L88.4 321.7 L94.2 323.6 L98.1 335.2 L101.0 329.4 L102.9 331.3 L105.4 325.5 L107.8 327.5 L111.2 305.6 L119.3 330.0 L124.6 302.3 L127.0 319.5 L129.3 315.0 L133.0 319.3 L140.0 325.8 L143.4 309.4 L145.3 313.3 L147.2 310.4 L151.7 318.1 L155.9 311.3 L159.8 304.6 L161.7 308.4 L166.5 290.0 L169.0 295.9 L172.3 281.4 L174.9 283.3 L179.1 276.0 L182.0 278.5 L187.8 298.8 L190.7 293.0 L193.6 295.9 L196.9 297.8 L200.4 280.4 L203.8 276.0 L206.5 282.3 L212.0 274.6 L214.9 275.2 L217.8 273.3 L219.7 274.6 L222.6 274.0 L225.5 282.3 L228.4 284.3 L233.6 297.8 L239.1 275.5 L243.0 267.8 L246.2 250.4 L248.1 213.6 L249.5 196.6 L254.3 205.5 L257.2 188.5 L261.1 201.1 L263.0 205.0 L265.3 216.5 L268.2 199.2 L270.7 195.9 L273.1 198.2 L276.0 193.4 L279.1 197.8 L281.4 209.4 L284.3 193.4 L287.6 207.9 L290.1 216.5 L292.0 217.1 L294.5 222.3 L296.8 218.5 L299.7 203.0 L302.6 209.8 L305.0 213.6 L308.0 226.2 L310.4 218.5 L313.3 225.2 L315.8 227.2 L318.1 225.2 L321.4 235.3 L324.3 232.0 L326.8 225.6 L329.3 215.6 L331.6 216.5 L335.5 210.7 L339.3 208.8 L342.2 200.5 L345.0 202.2 L348.0 201.3 L351.8 204.0 L356.6 209.3 L358.5 208.7 L360.8 202.9 L363.4 201.0 L366.3 183.6 L369.2 168.1 L371.1 162.0 L374.0 162.3 L376.9 161.4 L379.8 169.1 L382.1 178.4 L384.6 167.6 L388.5 166.2 L391.4 161.4 L394.3 155.6 L397.6 155.2 L399.1 161.4 L401.0 175.9 L403.9 178.8 L406.8 185.5 L409.2 190.7 L411.7 184.6 L414.6 174.9 L416.9 170.1 L419.4 168.1 L422.3 172.0 L424.6 172.6 L427.1 179.7 L429.6 187.5 L432.0 179.7 L434.3 177.2 L435.8 177.8 L438.7 167.2 L441.0 160.4 L443.6 161.4 L445.9 159.1 L448.4 163.3 L450.9 156.5 L452.8 141.1 L454.2 137.2 L456.5 139.5 L459.3 157.2 L461.8 157.6 L464.3 141.7 L467.0 138.8 L469.5 139.8 L472.4 135.0 L475.3 133.6 L477.2 135.0 L480.1 125.3 L483.0 125.3 L485.9 126.6 L488.8 143.6 L491.7 131.1 L494.6 129.7 L496.5 131.1 L499.4 143.6 L501.4 145.6 L504.9 151.4 L507.2 146.5 L510.1 141.3 L513.0 144.6 L515.9 148.5 L517.8 147.9 L520.7 152.3 L523.6 156.2 L526.1 156.8 L528.8 171.7 L531.3 164.5 L533.8 167.2 L536.5 165.3 L539.1 170.3 L542.0 163.9 L544.3 159.5 L547.4 165.9 L549.7 163.0 L552.6 172.6 L555.1 189.6 L557.4 183.3 L560.3 183.8 L562.8 183.3 L565.7 191.0 L568.5 174.5 L570.8 176.4 L573.7 186.1 L578.1 186.1 L581.4 193.8 L584.3 204.8 L586.6 199.6 L589.7 204.4 L592.4 202.9 L595.0 219.9 L597.9 225.3 L602.7 223.4 L607.5 221.4 L611.0 212.2 L613.3 207.3 L616.2 213.1 L619.1 220.3 L621.6 227.2 L623.9 221.4 L626.8 229.6 L629.7 234.4 L632.6 231.9 L635.5 231.9 L637.5 230.0 L640.0 233.8 L642.7 228.0 L645.8 227.2 L648.5 226.7 L651.6 229.2 L654.9 231.5 L657.8 236.9 L661.0 242.7 L663.6 235.4 L665.9 233.0 L669.0 234.4 L671.3 233.0 L674.2 231.1 L677.2 226.5 L679.7 230.5 L682.4 228.6 L685.0 230.6 L688.1 238.9 L690.8 237.0 L693.9 238.9 L696.3 244.7 L698.6 256.3 L701.7 261.2 L704.4 264.6 L707.5 262.1 L710.7 257.3 L713.6 254.4 L717.1 254.4 L720.4 253.0 L723.3 258.8 L725.6 258.3 L728.7 255.7 L731.4 255.4 L733.9 253.0 L737.2 247.2 L739.7 244.7 L742.2 245.7 L745.0 248.0 L747.5 246.7 L750.0 247.2 L754.2 245.3 L757.1 235.1 L759.6 237.6 L762.9 236.4 L765.8 235.7 L768.1 236.0 L770.7 223.5 L773.2 222.1 L775.9 216.3 L778.4 215.7 L780.9 205.1 L783.6 215.2 L786.1 215.7 L789.3 228.8 L791.8 222.9 L794.7 229.3 L797.6 238.4 L800.5 229.9 L804.3 228.7 L807.8 220.2 L811.1 220.2 L815.0 222.5 L817.9 220.6 L820.7 216.3 L823.6 216.3 L826.5 215.2 L829.1 218.3 L831.4 214.8 L834.3 216.3 L837.2 216.7 L840.1 218.3 L843.0 221.5 L845.9 226.0 L848.4 227.3 L850.7 231.2 L853.6 229.9 L856.1 227.9 L858.4 229.3 L861.3 228.3 L863.8 231.8 L866.2 238.0 L869.1 236.4 L872.0 236.0 L874.3 234.5 L876.8 235.7 L879.7 231.2 L882.0 229.3 L884.5 233.1 L887.4 243.4 L890.3 241.8 L892.3 243.4 L895.2 240.3 L898.1 235.1 L900.9 229.3 L903.3 227.9 L905.6 230.0 L908.1 228.6 L910.9 227.6 L913.7 229.0 L916.8 227.1 L919.1 229.0 L921.5 232.8 L924.3 236.0 L927.8 238.8 L930.6 239.5 L933.4 243.7 L935.5 247.7 L937.6 248.2" fill="none" stroke="#ea3943" stroke-width="2.2" stroke-linejoin="round" stroke-linecap="round"/></g>

<!-- baseline label -->
<rect x="19" y="263" width="50" height="25.5" rx="4" fill="#1f2535" fill-opacity="0.94"/>
<text x="44.8" y="282" text-anchor="middle" style="font-size:14.8px;fill:#c3c7d5">5.206</text>

<!-- axis labels -->
<text x="945.4" y="149.5" class="ax" style="font-size:14.6px">7.0</text><text x="945.4" y="222.1" class="ax" style="font-size:14.6px">6.0</text><text x="945.4" y="295.2" class="ax" style="font-size:14.6px">5.0</text><text x="945.4" y="367.6" class="ax" style="font-size:14.6px">4.0</text><text x="945.4" y="439.9" class="ax" style="font-size:14.6px">3.0</text>
<text x="48.75" y="524.2" class="ax" text-anchor="middle">12:00 PM</text><text x="175" y="524.2" class="ax" text-anchor="middle">4:00 PM</text><text x="302.75" y="524.2" class="ax" text-anchor="middle">8:00 PM</text><text x="430.5" y="524.2" class="ax" text-anchor="middle">4 Oct</text><text x="557.6" y="524.2" class="ax" text-anchor="middle">4:00 AM</text><text x="685.1" y="524.2" class="ax" text-anchor="middle">8:00 AM</text><text x="813.35" y="524.2" class="ax" text-anchor="middle">12:00 PM</text>
<text x="953.6" y="498.9" style="font-size:14.4px;font-weight:700;fill:#a1a7bb">USD</text>

<!-- last price tag -->
<rect x="938" y="231.6" width="36.2" height="31" rx="3" fill="#16c784"/>
<text x="956" y="252.9" text-anchor="middle" style="font-size:14px;font-weight:700;fill:#ffffff">5.5</text>

<!-- watermark -->
<g fill="none" stroke="#dfe3ee" stroke-width="2.6" stroke-linecap="round" stroke-linejoin="round" transform="translate(744.25 424)">
<path d="M24.9 24.3 A13.6 13.6 0 1 1 28.6 15.6 C28.6 18.6 25 20.2 23.6 17.8 L21.2 11 Q20.3 8.6 19 11 L14.8 19 Q14 20 13.9 18.5 L13.8 10.5 Q13.5 8.4 12.3 10.5 L5.4 21.8"/>
</g>
<text x="783.6" y="446.1" letter-spacing="0.2" style="font-size:18px;font-weight:700;fill:#dfe3ee">CoinMarketCap</text>

<!-- orange info badge -->
<path d="M41.7 525.6 L45.6 530 L48.5 530 A15.3 15.6 0 0 1 48.5 561.2 L36 561.2 A15.3 15.6 0 0 1 36 530 L37.8 530 Z" fill="#f6b478"/>
<text x="36.2" y="551" text-anchor="middle" style="font-size:14px;font-weight:700;fill:#fff0b0">i</text>
<text x="52.4" y="550" text-anchor="middle" style="font-size:13.4px;font-weight:700;fill:#ffffff">2</text>

<!-- Analyze button -->
<path d="M874.1 528 L878 532.2 L870.2 532.2 Z" fill="#3861fb"/>
<rect x="821" y="532" width="107" height="30.4" rx="15.2" fill="#3861fb"/>
<g fill="none" stroke="#ffffff" stroke-width="1.5" stroke-linecap="round" stroke-linejoin="round">
<path stroke-width="1.8" d="M843.3 551.2 A7.1 7.1 0 0 1 833.8 552.4 L830.7 554.7 L831.2 549 A7.1 7.1 0 1 1 845 547 C844.9 548.9 843.1 549.6 842.3 548.4 L840.9 545 Q840.4 544 839.7 545.2 L837.9 548.6 Q837.5 549.2 837.4 548.4 L837.1 545 Q836.8 543.9 836.1 545 L833.5 549.4"/>
<polyline points="909.6,543 914.2,547.4 909.6,551.8" stroke-width="1.8"/>
</g>
<text x="850.4" y="550.9" style="font-size:13.8px;font-weight:700;fill:#ffffff">Analyze</text>
</svg>
</body></html>
